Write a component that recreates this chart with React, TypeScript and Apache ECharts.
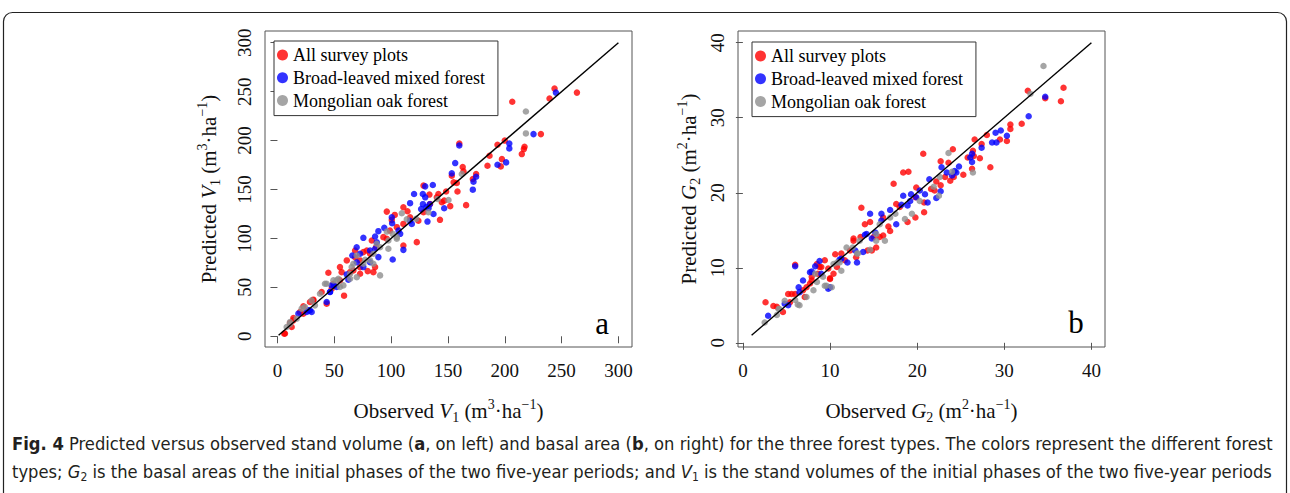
import React, { useEffect, useRef } from "react";
import * as echarts from "echarts";

// ---------- data ----------
const SERIES_NAMES = ["All survey plots", "Broad-leaved mixed forest", "Mongolian oak forest"];
const SERIES_COLORS = ["#ff0000", "#0000ff", "#8e8e8e"];

// Panel a: stand volume V1 (m3/ha), [observed, predicted]
const volAll: number[][] = [
  [243.8, 253.1], [263.5, 249], [239.4, 243], [206.6, 239.6], [231.8, 206.6], [200, 200], [193.6, 195.7],
  [217.4, 193.7], [216.8, 191.3], [215, 186.2], [186.6, 184.5], [197.5, 181], [184.8, 174.3], [196.5, 173.6],
  [160, 197], [163, 173], [163.7, 168.5], [174.8, 165.8], [171.9, 160.7], [155, 157.3], [157.8, 156.6],
  [153.4, 164.1], [158.4, 148], [166, 134], [152, 133], [148.4, 148], [143, 119], [141.6, 145.4], [133.7, 144.8],
  [128.5, 154], [122.6, 96.2], [114.4, 127.8], [103.2, 124], [96.2, 127.4], [110.8, 114.8], [99, 108], [83, 97.9],
  [68.3, 87.7], [81.5, 84.3], [79.4, 66.6], [61, 77.5], [55, 70.7], [44.8, 64.9], [58.6, 41.5], [43.3, 33.3],
  [31.6, 37.4], [22.8, 30.6], [11, 13.6], [6, 2.7], [14, 18.7], [85.9, 70.7], [75.6, 86], [110.8, 131.8],
  [134.3, 135.2], [140.2, 142], [144.6, 137], [124, 118], [116.7, 121.6], [105, 111.5], [93.2, 101.3],
  [72.7, 77.5], [63.9, 65.6], [49.2, 53.7], [38.9, 45.2], [28.6, 35], [19.8, 24.8], [86.8, 91.1], [100.6, 118.9],
  [128.5, 126.7], [146.7, 138.6], [72.7, 63.9], [6.6, 2.8], [12.5, 9.5], [13.9, 16.3], [22.7, 23.1], [31.5, 36.7],
  [47.7, 48.6], [55, 57.1], [56.5, 65.5], [66.8, 67.3], [72.7, 70.6], [68.3, 80.8], [84.4, 65.5], [78.6, 87.7],
  [110.8, 92.8], [96.2, 99.6],
];
const volBroad: number[][] = [
  [245, 249], [225.3, 206.6], [204, 197], [204, 192], [193.6, 175.3], [201.2, 177.7], [160, 195], [156.4, 177],
  [153.4, 166.5], [172.5, 158], [171.9, 149.8], [174.8, 163], [146.7, 130.8], [136.7, 154.6], [130, 153.2],
  [127.9, 145.4], [120.2, 145.4], [116.7, 136], [128, 135], [131, 132], [134, 135], [133, 131], [137.3, 125],
  [132, 117.2], [110.8, 88.3], [101.4, 78.5], [100.6, 121.6], [100.9, 115.5], [94, 110.8], [88.8, 107.4],
  [75.6, 100.6], [85.9, 102], [65.9, 82.6], [81.5, 87.7], [72.7, 84.3], [75.6, 70.7], [88.8, 80.9], [61, 63.2],
  [49.8, 52], [46.3, 45.2], [43.3, 35], [27.2, 26.5], [18.4, 23.1], [30.1, 24.8], [108, 104.7], [106.5, 108],
  [116.7, 118], [118.2, 114.8], [126.4, 130], [130, 142], [69.7, 91], [52.1, 50.3], [25.7, 24.8], [28.6, 26.5],
  [46.2, 45.2], [47.7, 52], [62.4, 57.8], [69.8, 75.7], [81.5, 75.7], [85.9, 89.4], [87.4, 96.1],
];
const volOak: number[][] = [
  [218.6, 229.7], [218.6, 207.3], [162.2, 165.8], [150.5, 139.3], [140.8, 140.3], [132.8, 126.7], [109.4, 125.7],
  [101.4, 104.7], [97.6, 97.9], [96.2, 107], [113.8, 119.6], [122, 120], [87.3, 94.5], [81.5, 77.5], [77.1, 78.2],
  [66.8, 74.1], [63.9, 58.8], [65.3, 70.7], [58, 52], [55, 50.3], [49.2, 57.1], [41.8, 53.7], [37.4, 43.5],
  [24.2, 29.9], [21.3, 28.2], [16.9, 18], [8.1, 9.5], [11, 12.2], [90.3, 62.2], [84.4, 74.1], [69.7, 82.6],
  [52.1, 57.1], [30.1, 36.7], [11, 14.6], [105, 101.3], [33, 31.6], [43.3, 53.7], [53.6, 58.8], [63.9, 63.9],
  [69.8, 60.4], [75.6, 74.1], [84.4, 84.3], [90.3, 91], [97.6, 89.4], [105, 99.6],
];

// Panel b: basal area G2 (m2/ha), [observed, predicted]
const baAll: number[][] = [
  [36.8, 34], [36.5, 32.2], [34.7, 32.6], [32.7, 33.6], [32, 29.2], [30.7, 29.1], [30.7, 28.5], [30.3, 26.9],
  [29.5, 27.1], [28.4, 23.4], [28, 27.7], [27.4, 26.5], [27.2, 24.6], [26.6, 27.1], [26.4, 25.6], [26.5, 24.9],
  [26.3, 23.2], [25.8, 24.7], [25.3, 22.4], [24.1, 25.8], [23.6, 24], [24.2, 22.1], [23.8, 21.6], [22.7, 24.2],
  [22.7, 21], [22.2, 21.5], [22, 20.3], [20.7, 25.2], [20.8, 18.7], [20.8, 17.4], [19.9, 20.7], [19.8, 19.4],
  [19.8, 16.7], [19, 22.8], [18.4, 22.7], [18.9, 16.1], [17.6, 18.5], [17.3, 21.2], [16.7, 15.5], [16.9, 14.9],
  [16.1, 16.7], [14.6, 16.1], [14, 15.8], [13.6, 18], [13.5, 14.1], [14.8, 12.3], [14.3, 12.3], [13, 11.4],
  [12.3, 12.3], [12.7, 13.9], [11.3, 11.9], [10.8, 10.1], [10.4, 9.2], [10, 8.5], [9.4, 11], [9, 10.1], [8.5, 10.5],
  [7.9, 8.8], [7.3, 7.4], [7.1, 6.1], [6, 6.5], [6, 10.4], [5.4, 5.4], [4.6, 4.1], [3.9, 4.8], [3.5, 4.9],
  [2.6, 5.4], [5.2, 6.5], [11.7, 11], [15.7, 14.1], [18, 18.1], [21.6, 20.5], [23.2, 22.1], [7.7, 7.9], [8.6, 9.2],
  [9.8, 9.9], [5.6, 6.5], [6.9, 7], [7.9, 8.3], [8.8, 10.1], [10, 8.6], [10.6, 11.8], [12.7, 13.6], [15, 14.1],
  [15.3, 12.7], [16.1, 14.3],
];
const baBroad: number[][] = [
  [34.7, 32.8], [32.8, 30.2], [30.3, 27.6], [29.6, 28.3], [29, 28], [28.6, 26.7], [29.1, 26.7], [27.4, 26],
  [26.3, 25.2], [26.1, 24.7], [26.3, 24.1], [24.8, 23.5], [24.3, 22.9], [24, 22.3], [23.4, 22.7], [22.8, 23.4],
  [22.7, 20.2], [22.2, 19.3], [21.4, 21.8], [21.2, 18.7], [20.9, 19.8], [20.3, 20.3], [19.3, 19.8], [19.2, 18.9],
  [18.9, 18.3], [18.2, 18.4], [17.6, 15.8], [16.9, 17.7], [15.9, 17.2], [15.9, 16.3], [14.6, 17.2], [15.2, 14.7],
  [14.8, 13.9], [14, 14.4], [13.8, 12.1], [13.1, 10.7], [12, 10.7], [11.3, 11.2], [10, 7.4], [9.8, 7.2], [9, 9.2],
  [8.8, 10.9], [8.3, 10.2], [7.7, 9.4], [6.9, 8.3], [6.4, 7.4], [6, 10.2], [5.2, 5], [4.8, 5.2], [2.9, 3.6],
  [18.4, 19.6], [19.9, 19.4], [24.5, 22.7], [6.5, 6.75], [7.9, 9.5], [11.1, 11.1], [12.9, 12.3], [14.2, 14.5],
];
const baOak: number[][] = [
  [34.5, 36.9], [33, 33.2], [23.6, 25.3], [26.4, 22.7], [24, 22.8], [22.6, 22.1], [21.9, 20.8], [22.5, 19.6],
  [19.4, 17.2], [18.6, 16.5], [16.9, 16.7], [16.3, 13.6], [15.7, 15.8], [14.6, 12.4], [13.4, 13.6], [12.6, 12.7],
  [11.9, 12.7], [11.3, 9.6], [10.4, 10.5], [10.2, 7.4], [9.4, 7.6], [8.5, 8.1], [8.1, 7], [7.3, 6.1], [6.5, 5],
  [6, 5.7], [4.8, 5.6], [4.1, 4.5], [3.9, 3.7], [2.5, 2.7], [13.1, 11.9], [15.3, 14.5], [17.5, 17.2], [20.3, 18.9],
  [10.8, 10.7], [9.2, 8.8], [4.2, 4.5], [6.3, 5.1], [8.3, 9.2], [9.6, 7.6], [11.1, 10.7], [13.2, 11.9],
  [15.3, 13.6],
];

// 1:1 lines
const volLine: number[][] = [[1, 1], [300, 300]];
const baLine: number[][] = [[1, 1], [40, 40]];

// axis ticks (min, max, step) and data ranges
const volTicks = { min: 0, max: 300, step: 50 };
const baTicks = { min: 0, max: 40, step: 10 };
const volRange = [1, 300];
const baRange = [1, 40];

// ---------- styling ----------
const SERIF = "'Liberation Serif', 'Times New Roman', serif";
const CAP_FONT = "'Liberation Sans Narrow', 'Arial Narrow', 'DejaVu Sans Condensed', sans-serif";
const BOX_COLOR = "#555555";
const CAP_SIZE = 18.2;
const TICK_SIZE = 19;

type Box = { x: number; y: number; w: number; h: number };
const panels = [
  {
    box: { x: 265, y: 31, w: 367, h: 316 } as Box,
    range: volRange, ticks: volTicks, line: volLine, data: [volAll, volBroad, volOak],
    sym: "V", sub: "1", unit: "3", yGap: 43, legend: { x: 274, y: 41 }, tag: "a", tagPos: [602, 323],
  },
  {
    box: { x: 738, y: 31, w: 367, h: 316 } as Box,
    range: baRange, ticks: baTicks, line: baLine, data: [baAll, baBroad, baOak],
    sym: "G", sub: "2", unit: "2", yGap: 36, legend: { x: 752, y: 42 }, tag: "b", tagPos: [1076, 322],
  },
];

function layout(box: Box, lo: number, hi: number, tmin: number, tmax: number) {
  const e = 0.04 * (hi - lo);
  const a = lo - e;
  const full = hi - lo + 2 * e;
  const sx = box.w / full;
  const sy = box.h / full;
  const left = box.x + (tmin - a) * sx;
  const right = box.x + (tmax - a) * sx;
  const bottom = box.y + box.h - (tmin - a) * sy;
  const top = box.y + box.h - (tmax - a) * sy;
  return {
    inner: { left, top, width: right - left, height: bottom - top },
    xOff: box.y + box.h - bottom,
    yOff: left - box.x,
    a,
    b: a + full,
  };
}

const nameRich = {
  i: { fontStyle: "italic", fontSize: 21, fontFamily: SERIF, color: "#111" },
  sub: { fontSize: 14, fontFamily: SERIF, verticalAlign: "bottom", color: "#111" },
  sup: { fontSize: 14, fontFamily: SERIF, verticalAlign: "top", color: "#111" },
};

const tickRich = { t: { fontFamily: SERIF, fontSize: TICK_SIZE, color: "#111" } };
const tickFormatter = (v: number) => `{t|${v}}`;

function buildOption() {
  const grid: any[] = [];
  const xAxis: any[] = [];
  const yAxis: any[] = [];
  const series: any[] = [];
  const legend: any[] = [];
  const graphic: any[] = [];

  panels.forEach((p, i) => {
    const L = layout(p.box, p.range[0], p.range[1], p.ticks.min, p.ticks.max);
    // inner grid for ticks and data
    grid.push({ ...L.inner, containLabel: false });
    // outer grid = plot box
    grid.push({
      left: p.box.x, top: p.box.y, width: p.box.w, height: p.box.h,
      show: true, borderColor: BOX_COLOR, borderWidth: 1, backgroundColor: "transparent",
    });
    const gi = i * 2;
    const tickAxisCommon = {
      type: "value",
      min: p.ticks.min,
      max: p.ticks.max,
      interval: p.ticks.step,
      axisLine: { show: false },
      axisTick: { show: true, length: 7, lineStyle: { color: BOX_COLOR, width: 1 } },
      splitLine: { show: false },
    };
    xAxis.push({
      ...tickAxisCommon, gridIndex: gi, offset: L.xOff,
      axisLabel: {
        margin: 14, fontFamily: SERIF, fontSize: TICK_SIZE, color: "#111",
        formatter: tickFormatter, rich: tickRich,
      },
    });
    yAxis.push({
      ...tickAxisCommon, gridIndex: gi, offset: L.yOff,
      axisLabel: {
        margin: 11, fontFamily: SERIF, fontSize: TICK_SIZE, color: "#111", rotate: 90,
        formatter: tickFormatter, rich: tickRich,
      },
    });
    const hiddenAxis = {
      type: "value", min: L.a, max: L.b,
      axisLine: { show: false }, axisTick: { show: false }, axisLabel: { show: false }, splitLine: { show: false },
      nameLocation: "middle",
    };
    xAxis.push({
      ...hiddenAxis, gridIndex: gi + 1,
      name: `Observed {i|${p.sym}}{sub|${p.sub}} (m{sup|${p.unit}}·ha{sup|−1})`,
      nameGap: 50,
      nameTextStyle: { fontFamily: SERIF, fontSize: 21, color: "#111", lineHeight: 27, rich: nameRich },
    });
    yAxis.push({
      ...hiddenAxis, gridIndex: gi + 1,
      name: `Predicted {i|${p.sym}}{sub|${p.sub}} (m{sup|${p.unit}}·ha{sup|−1})`,
      nameGap: p.yGap,
      nameTextStyle: { fontFamily: SERIF, fontSize: 21, color: "#111", lineHeight: 27, rich: nameRich },
    });

    p.data.forEach((d, k) => {
      series.push({
        type: "scatter",
        name: SERIES_NAMES[k],
        xAxisIndex: gi,
        yAxisIndex: gi,
        data: d,
        symbol: "circle",
        symbolSize: 6.5,
        itemStyle: { color: SERIES_COLORS[k] },
        z: 2 + k,
      });
    });
    series.push({
      type: "line",
      xAxisIndex: gi,
      yAxisIndex: gi,
      data: p.line,
      symbol: "none",
      lineStyle: { color: "#000", width: 1.4 },
      z: 6,
      silent: true,
    });

    legend.push({
      orient: "vertical",
      left: p.legend.x,
      top: p.legend.y,
      data: SERIES_NAMES,
      icon: "circle",
      itemWidth: 11,
      itemHeight: 11,
      itemGap: 2.8,
      padding: [4, 13, 5, 3],
      borderColor: "#333",
      borderWidth: 1,
      backgroundColor: "#fff",
      selectedMode: false,
      textStyle: { fontFamily: SERIF, fontSize: 18, color: "#000", lineHeight: 20 },
    });

    graphic.push({
      type: "text",
      x: p.tagPos[0],
      y: p.tagPos[1],
      style: { text: p.tag, fontFamily: SERIF, fontSize: 31, fill: "#000", align: "center", verticalAlign: "middle" },
      silent: true,
    });
  });

  // outer rounded frame
  graphic.push({
    type: "rect",
    shape: { x: 3.5, y: 12.5, width: 1283, height: 520, r: 9 },
    style: { fill: "none", stroke: "#222", lineWidth: 1.2 },
    silent: true,
    z: -10,
  });

  const capRich = {
    b: { fontWeight: "bold", fontFamily: CAP_FONT, fontSize: CAP_SIZE, fill: "#231f20" },
    i: { fontStyle: "italic", fontFamily: CAP_FONT, fontSize: CAP_SIZE, fill: "#231f20" },
    s: { fontFamily: CAP_FONT, fontSize: 12, verticalAlign: "bottom", fill: "#231f20" },
  };
  graphic.push({
    type: "text",
    x: 12,
    y: 443,
    style: {
      text:
        "{b|Fig. 4} Predicted versus observed stand volume ({b|a}, on left) and basal area ({b|b}, on right) for the three forest types. The colors represent the different forest",
      fontFamily: CAP_FONT, fontSize: CAP_SIZE, lineHeight: 23, fill: "#231f20", verticalAlign: "middle", rich: capRich,
    },
    silent: true,
  });
  graphic.push({
    type: "text",
    x: 12,
    y: 471,
    style: {
      text:
        "types; {i|G}{s|2} is the basal areas of the initial phases of the two five-year periods; and {i|V}{s|1} is the stand volumes of the initial phases of the two five-year periods",
      fontFamily: CAP_FONT, fontSize: CAP_SIZE, lineHeight: 23, fill: "#231f20", verticalAlign: "middle", rich: capRich,
    },
    silent: true,
  });

  return {
    animation: false,
    backgroundColor: "#fff",
    grid,
    xAxis,
    yAxis,
    series,
    legend,
    graphic,
  };
}

export default function App() {
  const ref = useRef<HTMLDivElement>(null);
  useEffect(() => {
    if (!ref.current) return;
    const chart = echarts.init(ref.current, null, { renderer: "svg" });
    chart.setOption(buildOption() as any);
    return () => chart.dispose();
  }, []);
  return (
    <div
      ref={ref}
      style={{ position: "fixed", left: 0, top: 0, width: 1290, height: 493, background: "#fff" }}
    />
  );
}
